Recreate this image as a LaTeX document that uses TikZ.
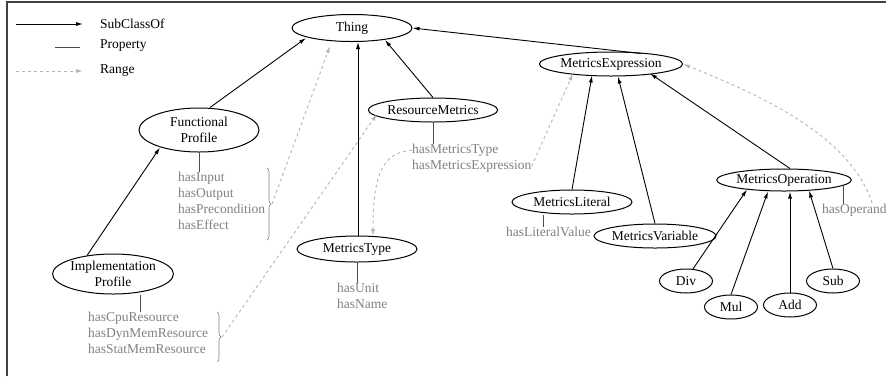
\documentclass[tikz,border=0pt]{standalone}
\usepackage{fontspec}
\setmainfont{Liberation Serif}
\usepackage{xcolor}
\usepackage{tikz}
\usetikzlibrary{positioning, arrows.meta, shapes.geometric, decorations.pathreplacing}

\definecolor{propgray}{HTML}{808080}
\definecolor{rangegray}{HTML}{B4B4B4}

\begin{document}
\begin{tikzpicture}[
    x=1pt, y=-1pt,
    font=\fontsize{13.5}{16}\selectfont,
    concept/.style={ellipse, draw, line width=1pt, inner sep=0pt, minimum height=24pt, align=center},
    widebox/.style={minimum width=120pt},
    smallbox/.style={minimum width=53pt},
    props/.style={text=propgray, align=left, inner sep=0pt},
    subclass/.style={-{Latex[length=7pt,width=4pt]}, line width=0.9pt},
    property/.style={draw=black!70, line width=0.9pt},
    rangeline/.style={-{Latex[length=7pt,width=4pt]}, dashed, rangegray, line width=0.9pt},
    pbrace/.style={decorate, decoration={brace, amplitude=4pt}, propgray, line width=0.6pt}
]

\useasboundingbox (0,0) rectangle (886,376);

% Frame (only top and left visible)
\draw[black!75, line width=1.2pt] (7,376) -- (7,2) -- (886,2);

% Legend
\coordinate (l1a) at (16,24);  \coordinate (l1b) at (83,24);
\coordinate (l2a) at (55,47);  \coordinate (l2b) at (80,47);
\coordinate (l3a) at (16,71);  \coordinate (l3b) at (83,71);
\draw[subclass] (l1a) -- (l1b);
\draw[property] (l2a) -- (l2b);
\draw[rangeline] (l3a) -- (l3b);
\node[anchor=west, inner sep=0pt] (lsub) at (100,24) {SubClassOf};
\node[anchor=west, inner sep=0pt] (lprop) at (100,46) {Property};
\node[anchor=west, inner sep=0pt] (lrange) at (100,71) {Range};

% Classes
\node[concept, widebox, minimum height=27pt] (thing) at (352,28) {Thing};
\node[concept, widebox, minimum height=44pt] (func) at (199,130) {Functional\\Profile};
\node[concept, widebox, minimum height=40pt] (impl) at (113,274) {Implementation\\Profile};
\node[concept, widebox] (resm) at (433,110) {ResourceMetrics};
\node[concept, widebox, minimum height=26pt] (mtype) at (357,249) {MetricsType};
\node[concept, widebox] (mexpr) at (611,64) {MetricsExpression};
\node[concept, widebox] (mlit) at (572,202) {MetricsLiteral};
\node[concept, widebox] (mvar) at (655,236) {MetricsVariable};
\node[concept, minimum width=112pt, minimum height=22pt] (mop) at (784,180) {MetricsOperation};

% Operations
\foreach \name/\txt/\x/\y in {div/Div/686/281, mul/Mul/731/307, add/Add/790/305, sub/Sub/833/281} {
    \node[concept, smallbox] (\name) at (\x,\y) {\txt};
}

% SubClassOf arrows
\draw[subclass] ([xshift=11pt]func.north) -- ([xshift=-46pt,yshift=4pt]thing.south);
\draw[subclass] ([xshift=-26pt,yshift=-2pt]impl.north) -- ([xshift=-39pt,yshift=5pt]func.south);
\draw[subclass] ([xshift=1pt]mtype.north) -- ([xshift=6pt]thing.south);
\draw[subclass] (resm.north) -- ([xshift=33pt,yshift=2pt]thing.south);
\draw[subclass] ([xshift=30pt,yshift=-2pt]mexpr.north) -- (thing.east);
\draw[subclass] (mlit.north) -- ([xshift=-19pt,yshift=1pt]mexpr.south);
\draw[subclass] (mvar.north) -- ([xshift=7pt]mexpr.south);
\draw[subclass] ([xshift=6pt]mop.north) -- ([xshift=39pt,yshift=3pt]mexpr.south);
\draw[subclass] (div.60) -- ([xshift=-37pt,yshift=2pt]mop.south);
\draw[subclass] (mul.north) -- ([xshift=-16pt]mop.south);
\draw[subclass] (add.north) -- ([xshift=6pt]mop.south);
\draw[subclass] (sub.north) -- ([xshift=25pt,yshift=1pt]mop.south);

% Properties
\node[props, anchor=north west] (funcp) at (178,172) {hasInput\\hasOutput\\hasPrecondition\\hasEffect};
\node[props, anchor=north west] (implp) at (88,312) {hasCpuResource\\hasDynMemResource\\hasStatMemResource};
\node[props, anchor=north west] (resp1) at (412,144) {hasMetricsType};
\node[props, anchor=north west] (resp2) at (412,160) {hasMetricsExpression};
\node[props, anchor=north west] (typep) at (337,283) {hasUnit\\hasName};
\node[props, anchor=north west] (litp) at (506,227) {hasLiteralValue};
\node[props, anchor=north west] (opp) at (822,204) {hasOperand};

\coordinate (opstub) at (843,185);
\draw[property] (func.south) -- (func.south |- funcp.north);
\draw[property] ([xshift=27pt]impl.south) -- ([xshift=27pt]impl.south |- implp.north);
\draw[property] (resm.south) -- (resm.south |- resp1.north);
\draw[property] (mtype.south) -- (mtype.south |- typep.north);
\draw[property] ([xshift=-29pt]mlit.south) -- ([xshift=-29pt]mlit.south |- litp.north);
\draw[property] (opstub) -- (opstub |- opp.north);

% Braces
\draw[pbrace] (267,168) -- (267,240) coordinate[midway, xshift=5pt] (funcb);
\draw[pbrace] (217,312) -- (217,362) coordinate[midway, xshift=5pt] (implb);

% Range arrows
\coordinate (typetop) at (373,236);
\coordinate (opend) at (872,203);
\draw[rangeline] (funcb) -- ([xshift=-22pt,yshift=-4pt]thing.south);
\draw[rangeline] (implb) -- ([xshift=-56pt,yshift=-4pt]resm.center);
\draw[rangeline] (resp1.west) .. controls (380,152) and (373,180) .. (typetop);
\draw[rangeline] (resp2.east) -- ([xshift=-38pt,yshift=3pt]mexpr.south);
\draw[rangeline] (opend) .. controls (850,135) and (760,95) .. (mexpr.east);

\end{tikzpicture}
\end{document}
